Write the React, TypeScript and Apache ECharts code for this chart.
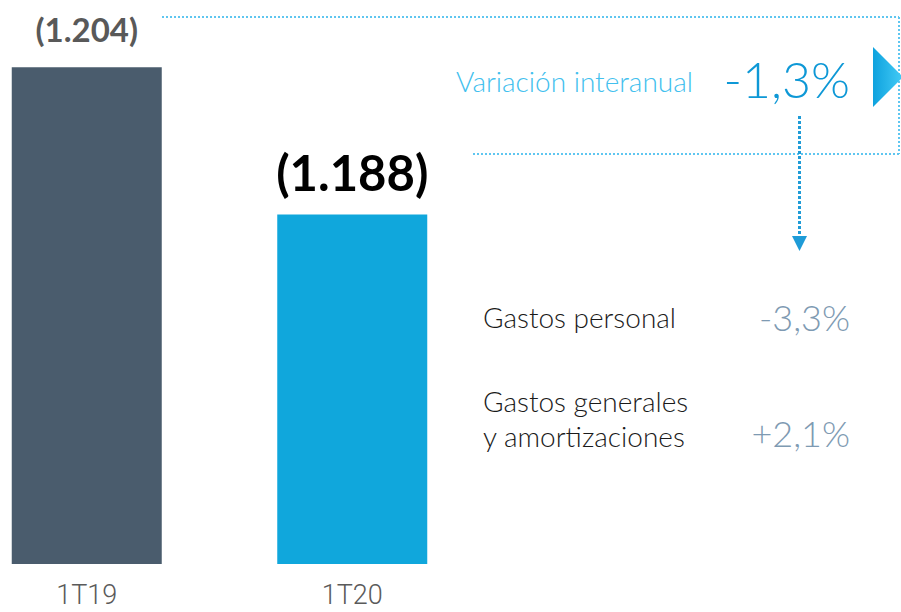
import React, { useEffect, useRef } from "react";
import * as echarts from "echarts";

const categories = ["1T19", "1T20"];
const costs = [1204, 1188];
const barColors = ["#4A5C6D", "#10A7DC"];
const totalChangeLabel = "Variación interanual";
const totalChange = "-1,3%";
const breakdownLabels = ["Gastos personal", "Gastos generales\ny amortizaciones"];
const breakdownValues = ["-3,3%", "+2,1%"];

const fmt = (v: number) =>
  "(" + String(v).replace(/\B(?=(\d{3})+(?!\d))/g, ".") + ")";

const FONT = "Lato, 'Open Sans', sans-serif";

export default function App() {
  const ref = useRef<HTMLDivElement>(null);
  useEffect(() => {
    if (!ref.current) return;
    const chart = echarts.init(ref.current, undefined, { renderer: "svg" });
    const dotted = "#5EC6F0";
    chart.setOption({
      animation: false,
      grid: {
        left: -46,
        top: 12,
        width: 531,
        height: 552,
        containLabel: false,
        outerBoundsMode: "none",
      },
      xAxis: {
        type: "category",
        data: categories,
        axisLine: { show: false },
        axisTick: { show: false },
        axisLabel: {
          fontSize: 27,
          lineHeight: 24,
          fontWeight: 300,
          color: "#5a5a5a",
          fontFamily: "Roboto, Arial, sans-serif",
          margin: 19,
        },
      },
      yAxis: { type: "value", min: 1150, max: 1210, show: false },
      series: [
        {
          type: "bar",
          barWidth: 150,
          data: costs.map((v, i) => ({
            value: v,
            itemStyle: { color: barColors[i] },
            label:
              i === 0
                ? {
                    show: true,
                    position: "top",
                    distance: 22,
                    formatter: () => fmt(v),
                    fontSize: 33,
                    lineHeight: 33,
                    fontWeight: "bold",
                    fontFamily: FONT,
                    color: "#595959",
                  }
                : {
                    show: true,
                    position: "top",
                    distance: 18,
                    formatter: () => fmt(v),
                    fontSize: 49,
                    lineHeight: 49,
                    fontWeight: "bold",
                    fontFamily: FONT,
                    color: "#000000",
                  },
          })),
        },
      ],
      graphic: [
        {
          type: "line",
          shape: { x1: 162, y1: 17, x2: 899, y2: 17 },
          style: { stroke: dotted, lineWidth: 2, lineDash: [2, 2] },
        },
        {
          type: "line",
          shape: { x1: 899, y1: 17, x2: 899, y2: 154 },
          style: { stroke: dotted, lineWidth: 2, lineDash: [2, 2] },
        },
        {
          type: "line",
          shape: { x1: 473, y1: 154, x2: 899, y2: 154 },
          style: { stroke: dotted, lineWidth: 2, lineDash: [2, 2] },
        },
        {
          type: "polygon",
          shape: { points: [[873, 47], [873, 107], [903, 77]] },
          style: {
            fill: new echarts.graphic.LinearGradient(0, 0, 1, 0, [
              { offset: 0, color: "#0EA2DE" },
              { offset: 1, color: "#44CBF6" },
            ]),
          },
        },
        {
          type: "line",
          shape: { x1: 799.5, y1: 116, x2: 799.5, y2: 237 },
          style: { stroke: "#1E9BD7", lineWidth: 3, lineDash: [3, 2] },
        },
        {
          type: "polygon",
          shape: { points: [[792, 236], [807, 236], [799.5, 251]] },
          style: { fill: "#1E9BD7" },
        },
        {
          type: "text",
          x: 456,
          y: 81,
          style: {
            text: totalChangeLabel,
            font: `300 28px ${FONT}`,
            fill: "#42C0EE",
            textAlign: "left",
            textVerticalAlign: "middle",
          },
        },
        {
          type: "text",
          x: 850,
          y: 79,
          style: {
            text: totalChange,
            font: `300 50px ${FONT}`,
            fill: "#0E98D6",
            textAlign: "right",
            textVerticalAlign: "middle",
          },
        },
        {
          type: "text",
          x: 483,
          y: 317,
          style: {
            text: breakdownLabels[0],
            font: `300 28px ${FONT}`,
            fill: "#1A1A1A",
            textAlign: "left",
            textVerticalAlign: "middle",
          },
        },
        {
          type: "text",
          x: 483,
          y: 418,
          style: {
            text: breakdownLabels[1],
            font: `300 28px ${FONT}`,
            lineHeight: 35,
            fill: "#1A1A1A",
            textAlign: "left",
            textVerticalAlign: "middle",
          },
        },
        {
          type: "text",
          x: 850,
          y: 317,
          style: {
            text: breakdownValues[0],
            font: `300 36px ${FONT}`,
            fill: "#7E9AB2",
            textAlign: "right",
            textVerticalAlign: "middle",
          },
        },
        {
          type: "text",
          x: 850,
          y: 433,
          style: {
            text: breakdownValues[1],
            font: `300 36px ${FONT}`,
            fill: "#7E9AB2",
            textAlign: "right",
            textVerticalAlign: "middle",
          },
        },
      ],
    });
    return () => chart.dispose();
  }, []);
  return (
    <div
      ref={ref}
      style={{ position: "absolute", left: 0, top: 0, width: 901, height: 612 }}
    />
  );
}
